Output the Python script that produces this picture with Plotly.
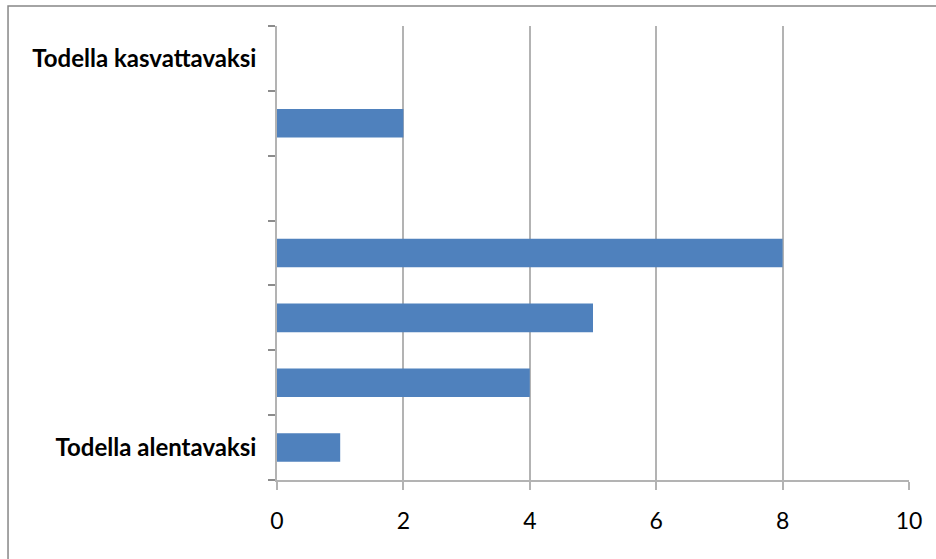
import plotly.graph_objects as go

# Response categories, bottom to top (unlabelled middle steps kept distinct)
categories = ["Todella alentavaksi", " ", "  ", "   ", "    ", "     ", "Todella kasvattavaksi"]
counts = [1, 4, 5, 8, 0, 2, 0]

bar_color = "#4F81BD"
grid_color = "#B3B3B3"
font_family = "Lato, Carlito, 'Open Sans', sans-serif"

fig = go.Figure(
    go.Bar(
        x=counts,
        y=categories,
        orientation="h",
        marker=dict(color=bar_color, line=dict(width=0)),
        hoverinfo="x+y",
    )
)

fig.update_layout(
    width=936,
    height=559,
    margin=dict(l=277, r=27, t=26, b=79),
    paper_bgcolor="white",
    plot_bgcolor="white",
    bargap=0.56,
    showlegend=False,
    font=dict(family=font_family, color="black"),
    xaxis=dict(
        range=[0, 10],
        dtick=2,
        tick0=0,
        showgrid=True,
        gridcolor=grid_color,
        gridwidth=1.5,
        zeroline=False,
        showline=True,
        linecolor=grid_color,
        linewidth=1.5,
        ticks="outside",
        ticklen=8,
        tickwidth=1.5,
        tickcolor=grid_color,
        tickfont=dict(size=23, family=font_family),
        ticklabelstandoff=12,
    ),
    yaxis=dict(
        type="category",
        categoryorder="array",
        categoryarray=categories,
        tickson="boundaries",
        showgrid=False,
        zeroline=False,
        showline=True,
        linecolor=grid_color,
        linewidth=1.5,
        ticks="outside",
        ticklen=7,
        tickwidth=1.5,
        tickcolor="#8C8C8C",
        tickfont=dict(size=24, family=font_family, weight="bold"),
        ticklabelstandoff=14,
    ),
    shapes=[
        # chart frame, running past the right and bottom edges
        dict(
            type="rect",
            xref="paper",
            yref="paper",
            x0=-0.4256,
            x1=1.06,
            y0=-0.2,
            y1=1.044,
            line=dict(color="#878787", width=1.5),
            fillcolor="rgba(0,0,0,0)",
            layer="below",
        )
    ],
)

fig.write_html("out.html")
